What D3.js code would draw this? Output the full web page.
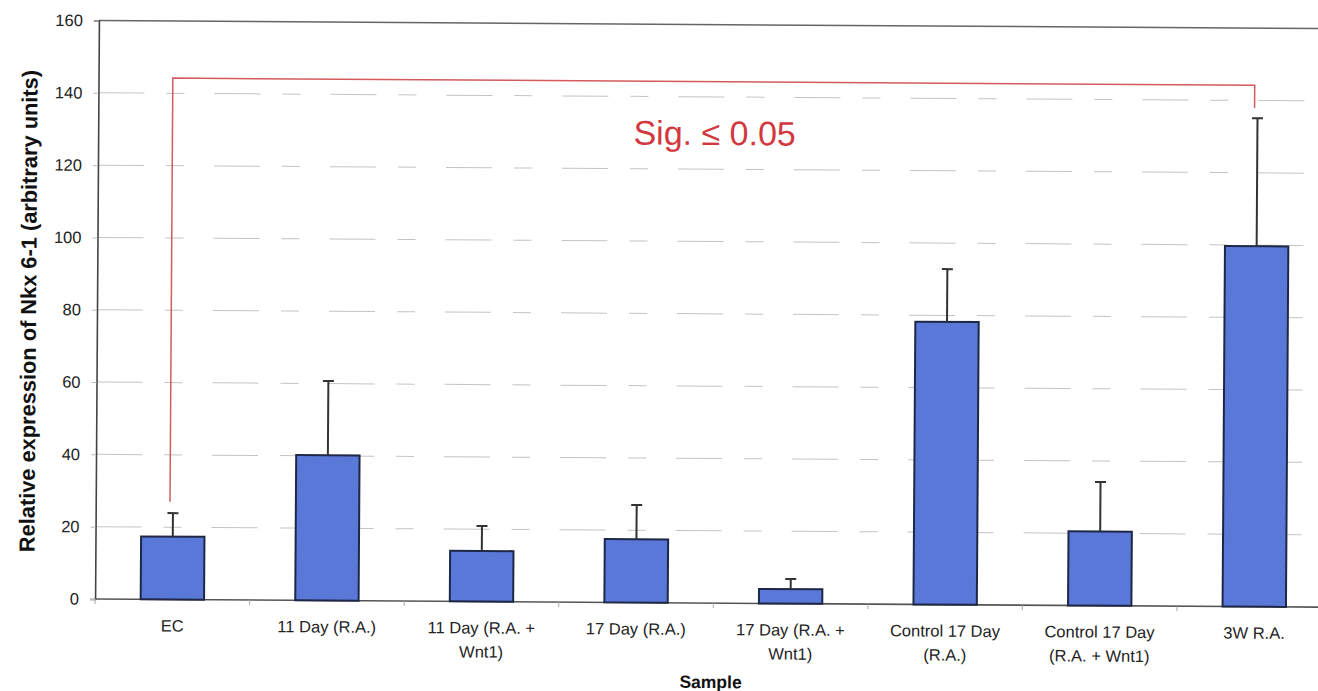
<!DOCTYPE html>
<html>
<head>
<meta charset="utf-8">
<script src="https://cdn.jsdelivr.net/npm/d3@7"></script>
<style>
  html, body { margin: 0; padding: 0; background: #fff; }
  svg { display: block; font-family: "Liberation Sans", Arial, sans-serif; }
</style>
</head>
<body>
<svg id="chart" width="1318" height="691"></svg>
<script>
// ---- data ----
const categories = ["EC", "11 Day (R.A.)", "11 Day (R.A. + Wnt1)", "17 Day (R.A.)",
  "17 Day (R.A. + Wnt1)", "Control 17 Day (R.A.)", "Control 17 Day (R.A. + Wnt1)", "3W R.A."];
const categoryLines = [["EC"], ["11 Day (R.A.)"], ["11 Day (R.A. +", "Wnt1)"], ["17 Day (R.A.)"],
  ["17 Day (R.A. +", "Wnt1)"], ["Control 17 Day", "(R.A.)"], ["Control 17 Day", "(R.A. + Wnt1)"], ["3W R.A."]];
const means = [17.4, 40.2, 14.0, 17.5, 4.0, 78.2, 20.5, 99.7];
const errorUp = [6.5, 20.5, 6.9, 9.5, 2.8, 14.6, 13.7, 35.4];
const yTicks = [0, 20, 40, 60, 80, 100, 120, 140, 160];
const bracketEnds = ["EC", "3W R.A."];
const bracketValues = [27.0, 144.2, 137.9]; // left foot, bar level, right foot
const sigLabel = "Sig. \u2264 0.05";
const sigValue = 126.7;
const yTitle = "Relative expression of Nkx 6-1 (arbitrary units)";
const xTitle = "Sample";

// ---- layout ----
const plotLeft = 97, plotTop = 20.5, plotBottom = 599;
const step = 154.56;
const plotRight = plotLeft + step * categories.length;

const svg = d3.select("#chart");
svg.append("rect").attr("width", 1318).attr("height", 691).attr("fill", "#fff");
const g = svg.append("g").attr("transform", "rotate(0.38, 97, 310)");

const x = d3.scaleBand().domain(categories).range([plotLeft, plotRight])
  .paddingInner(0.59).paddingOuter(0.295);
const y = d3.scaleLinear().domain([0, 160]).range([plotBottom, plotTop]);
const xc = c => x(c) + x.bandwidth() / 2;

// gridlines
g.append("g").selectAll("line").data(yTicks.filter(t => t > 0 && t < 160)).join("line")
  .attr("x1", plotLeft).attr("x2", plotRight)
  .attr("y1", d => y(d)).attr("y2", d => y(d))
  .attr("stroke", "#c4c4c4").attr("stroke-width", 1)
  .attr("stroke-dasharray", "46,22,18,30");

// top border
g.append("line").attr("x1", plotLeft).attr("x2", plotRight).attr("y1", y(160)).attr("y2", y(160))
  .attr("stroke", "#666").attr("stroke-width", 1.5);

// y axis
const yAxis = g.append("g").attr("transform", `translate(${plotLeft},0)`)
  .call(d3.axisLeft(y).tickValues(yTicks).tickSize(5).tickPadding(11));
yAxis.select(".domain").attr("stroke", "#444").attr("stroke-width", 1.6);
yAxis.selectAll(".tick line").attr("stroke", "#bbb");
yAxis.selectAll(".tick text").attr("font-size", "16.5px").attr("fill", "#222")
  .attr("font-family", "'Liberation Sans', Arial, sans-serif");

// x baseline and ticks
g.append("line").attr("x1", plotLeft).attr("x2", plotRight).attr("y1", y(0)).attr("y2", y(0))
  .attr("stroke", "#555").attr("stroke-width", 1.6);
g.append("g").selectAll("line").data(d3.range(categories.length + 1)).join("line")
  .attr("x1", i => plotLeft + i * x.step()).attr("x2", i => plotLeft + i * x.step())
  .attr("y1", y(0)).attr("y2", y(0) + 5)
  .attr("stroke", "#aaa").attr("stroke-width", 1);

// bars
g.append("g").selectAll("rect").data(categories).join("rect")
  .attr("x", d => x(d)).attr("width", x.bandwidth())
  .attr("y", (d, i) => y(means[i])).attr("height", (d, i) => y(0) - y(means[i]))
  .attr("fill", "#5a78d8").attr("stroke", "#1e2846").attr("stroke-width", 2);

// error bars (upper)
const eb = g.append("g").attr("stroke", "#333").attr("stroke-width", 2);
eb.selectAll("line.v").data(categories).join("line").attr("class", "v")
  .attr("x1", d => xc(d)).attr("x2", d => xc(d))
  .attr("y1", (d, i) => y(means[i])).attr("y2", (d, i) => y(means[i] + errorUp[i]));
eb.selectAll("line.c").data(categories).join("line").attr("class", "c")
  .attr("x1", d => xc(d) - 5.5).attr("x2", d => xc(d) + 5.5)
  .attr("y1", (d, i) => y(means[i] + errorUp[i])).attr("y2", (d, i) => y(means[i] + errorUp[i]));

// x labels
const xl = g.append("g").attr("font-size", "16.5px").attr("fill", "#222").attr("text-anchor", "middle");
categories.forEach((c, i) => {
  const t = xl.append("text").attr("x", xc(c)).attr("y", 631);
  categoryLines[i].forEach((line, k) => {
    t.append("tspan").attr("x", xc(c)).attr("dy", k === 0 ? 0 : 24).text(line);
  });
});

// significance bracket
const bx1 = xc(bracketEnds[0]) - 3, bx2 = xc(bracketEnds[1]) - 3;
g.append("path")
  .attr("d", `M${bx1},${y(bracketValues[0])}V${y(bracketValues[1])}H${bx2}V${y(bracketValues[2])}`)
  .attr("fill", "none").attr("stroke", "#d45a5e").attr("stroke-width", 1.5);
g.append("text").attr("x", 713.5).attr("y", y(sigValue)).attr("text-anchor", "middle")
  .attr("font-size", "34px").attr("fill", "#d2383e").text(sigLabel);

// axis titles
g.append("text").attr("transform", "translate(36,311.5) rotate(-90)")
  .attr("text-anchor", "middle").attr("font-size", "21.8px").attr("font-weight", "bold")
  .attr("fill", "#111").text(yTitle);
g.append("text").attr("x", 713).attr("y", 684).attr("text-anchor", "middle")
  .attr("font-size", "17.5px").attr("font-weight", "bold").attr("fill", "#111").text(xTitle);
</script>
</body>
</html>
